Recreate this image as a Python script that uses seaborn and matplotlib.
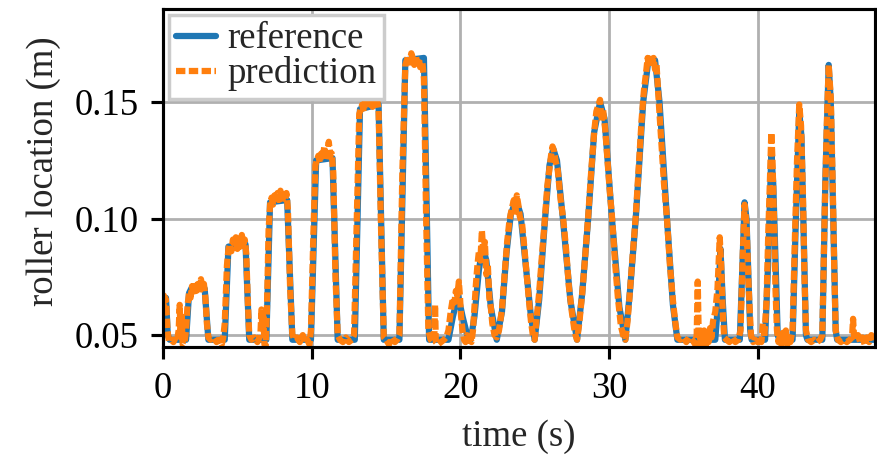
import matplotlib
matplotlib.use("Agg")
import matplotlib.pyplot as plt
from matplotlib.ticker import FixedLocator, FormatStrFormatter
import seaborn as sns
import pandas as pd

# Measured roller position (reference) and model output (prediction), metres vs seconds
ref_time = [
    0.00, 0.08, 0.20, 0.32, 0.45, 1.55, 1.75, 1.90, 2.80, 3.05,
    4.15, 4.40, 5.55, 5.80, 6.95, 7.20, 8.35, 8.70, 9.95, 10.30,
    11.40, 11.75, 12.90, 13.25, 14.50, 14.85, 15.90, 16.30, 17.55, 17.90,
    19.20, 19.50, 19.85, 20.15, 20.50, 20.70, 20.95, 21.25, 21.50, 21.75,
    22.05, 22.45, 22.80, 23.10, 23.40, 23.75, 24.05, 24.40, 24.75, 25.00,
    25.30, 25.70, 26.00, 26.25, 26.50, 26.90, 27.40, 27.85, 28.20, 28.60,
    29.00, 29.40, 29.70, 30.20, 30.70, 31.10, 31.40, 31.80, 32.30, 32.65,
    33.10, 33.40, 33.90, 34.30, 34.60, 37.15, 37.35, 37.50, 37.65, 37.80,
    38.80, 38.95, 39.12, 39.25, 39.50, 39.60, 40.50, 40.70, 40.92, 41.05,
    41.35, 41.45, 42.35, 42.55, 42.80, 42.95, 43.25, 43.35, 44.35, 44.55,
    44.78, 44.92, 45.25, 45.35, 47.90,
]
ref_location = [
    0.056, 0.066, 0.066, 0.050, 0.048, 0.048, 0.068, 0.070, 0.070, 0.048,
    0.048, 0.088, 0.089, 0.048, 0.048, 0.107, 0.108, 0.048, 0.048, 0.125,
    0.126, 0.048, 0.048, 0.147, 0.149, 0.048, 0.048, 0.168, 0.169, 0.048,
    0.048, 0.058, 0.067, 0.058, 0.049, 0.048, 0.058, 0.078, 0.088, 0.082,
    0.062, 0.048, 0.060, 0.085, 0.102, 0.108, 0.102, 0.080, 0.058, 0.048,
    0.065, 0.100, 0.123, 0.130, 0.125, 0.100, 0.065, 0.048, 0.068, 0.100,
    0.137, 0.150, 0.143, 0.100, 0.062, 0.048, 0.068, 0.100, 0.150, 0.168,
    0.168, 0.150, 0.100, 0.063, 0.048, 0.048, 0.065, 0.087, 0.065, 0.048,
    0.048, 0.075, 0.107, 0.100, 0.052, 0.048, 0.048, 0.080, 0.128, 0.115,
    0.050, 0.048, 0.048, 0.095, 0.146, 0.135, 0.050, 0.048, 0.048, 0.115,
    0.166, 0.150, 0.052, 0.048, 0.048,
]

pred_time = [
    0.00, 0.05, 0.10, 0.15, 0.22, 0.30, 0.40, 0.55, 0.70, 0.85,
    0.95, 1.05, 1.12, 1.18, 1.25, 1.32, 1.45, 1.55, 1.65, 1.75,
    1.85, 1.95, 2.05, 2.15, 2.25, 2.35, 2.45, 2.55, 2.65, 2.75,
    2.85, 2.95, 3.05, 3.20, 3.40, 3.60, 3.80, 3.95, 4.05, 4.15,
    4.30, 4.40, 4.50, 4.60, 4.70, 4.80, 4.90, 5.00, 5.10, 5.20,
    5.30, 5.40, 5.50, 5.60, 5.70, 5.80, 5.95, 6.15, 6.35, 6.55,
    6.62, 6.68, 6.75, 6.82, 6.90, 6.98, 7.10, 7.20, 7.30, 7.40,
    7.50, 7.60, 7.70, 7.80, 7.90, 8.00, 8.10, 8.20, 8.30, 8.40,
    8.55, 8.70, 8.85, 9.00, 9.20, 9.40, 9.55, 9.70, 9.85, 9.95,
    10.10, 10.25, 10.35, 10.45, 10.55, 10.65, 10.75, 10.85, 10.95, 11.05,
    11.15, 11.25, 11.35, 11.45, 11.60, 11.75, 11.90, 12.10, 12.30, 12.50,
    12.70, 12.85, 13.00, 13.20, 13.30, 13.40, 13.50, 13.60, 13.70, 13.80,
    13.90, 14.00, 14.10, 14.20, 14.30, 14.40, 14.50, 14.65, 14.85, 15.00,
    15.20, 15.40, 15.60, 15.75, 15.90, 16.10, 16.30, 16.40, 16.50, 16.60,
    16.70, 16.80, 16.90, 17.00, 17.10, 17.20, 17.30, 17.45, 17.55, 17.70,
    17.85, 18.00, 18.15, 18.25, 18.30, 18.35, 18.50, 18.70, 18.90, 19.05,
    19.20, 19.35, 19.50, 19.60, 19.70, 19.80, 19.90, 19.98, 20.05, 20.15,
    20.25, 20.35, 20.45, 20.55, 20.65, 20.75, 20.85, 20.95, 21.05, 21.15,
    21.25, 21.35, 21.45, 21.55, 21.65, 21.75, 21.85, 21.95, 22.05, 22.15,
    22.30, 22.45, 22.60, 22.80, 23.00, 23.15, 23.30, 23.45, 23.60, 23.70,
    23.80, 23.90, 24.00, 24.15, 24.30, 24.45, 24.60, 24.75, 24.90, 25.00,
    25.10, 25.30, 25.50, 25.70, 25.85, 26.00, 26.10, 26.20, 26.30, 26.40,
    26.55, 26.75, 26.90, 27.10, 27.30, 27.50, 27.70, 27.85, 28.00, 28.20,
    28.40, 28.60, 28.80, 29.00, 29.15, 29.30, 29.40, 29.50, 29.60, 29.75,
    29.90, 30.05, 30.20, 30.40, 30.60, 30.80, 30.95, 31.10, 31.25, 31.40,
    31.60, 31.80, 32.00, 32.20, 32.35, 32.50, 32.60, 32.70, 32.80, 32.90,
    33.00, 33.10, 33.20, 33.35, 33.50, 33.70, 33.90, 34.10, 34.30, 34.45,
    34.60, 34.80, 35.00, 35.20, 35.40, 35.60, 35.80, 35.90, 35.97, 36.03,
    36.10, 36.20, 36.30, 36.40, 36.50, 36.60, 36.70, 36.80, 36.90, 37.00,
    37.15, 37.30, 37.45, 37.55, 37.65, 37.75, 37.90, 38.10, 38.30, 38.50,
    38.70, 38.85, 39.00, 39.12, 39.25, 39.40, 39.55, 39.70, 39.85, 40.00,
    40.15, 40.25, 40.35, 40.45, 40.60, 40.72, 40.82, 40.92, 41.00, 41.10,
    41.20, 41.30, 41.40, 41.50, 41.60, 41.70, 41.80, 41.90, 42.00, 42.10,
    42.20, 42.35, 42.50, 42.65, 42.80, 42.92, 43.05, 43.15, 43.25, 43.40,
    43.60, 43.80, 44.00, 44.20, 44.35, 44.50, 44.65, 44.78, 44.92, 45.05,
    45.15, 45.25, 45.40, 45.60, 45.80, 46.00, 46.20, 46.35, 46.42, 46.48,
    46.60, 46.75, 46.90, 47.05, 47.20, 47.35, 47.50, 47.65, 47.80, 47.90,
]
pred_location = [
    0.060, 0.067, 0.058, 0.066, 0.063, 0.052, 0.047, 0.048, 0.047, 0.049,
    0.048, 0.052, 0.063, 0.050, 0.058, 0.046, 0.047, 0.052, 0.063, 0.068,
    0.066, 0.071, 0.067, 0.073, 0.069, 0.072, 0.068, 0.074, 0.070, 0.072,
    0.066, 0.055, 0.049, 0.048, 0.049, 0.047, 0.048, 0.046, 0.049, 0.055,
    0.080, 0.087, 0.089, 0.086, 0.091, 0.088, 0.092, 0.087, 0.090, 0.088,
    0.093, 0.089, 0.091, 0.085, 0.065, 0.050, 0.048, 0.049, 0.047, 0.050,
    0.061, 0.053, 0.058, 0.046, 0.045, 0.058, 0.095, 0.106, 0.109, 0.106,
    0.110, 0.107, 0.111, 0.108, 0.112, 0.107, 0.110, 0.108, 0.111, 0.104,
    0.070, 0.050, 0.048, 0.049, 0.047, 0.050, 0.047, 0.048, 0.046, 0.052,
    0.090, 0.123, 0.125, 0.127, 0.124, 0.128, 0.126, 0.131, 0.125, 0.129,
    0.133, 0.127, 0.128, 0.120, 0.075, 0.050, 0.048, 0.047, 0.049, 0.047,
    0.048, 0.050, 0.090, 0.145, 0.147, 0.149, 0.146, 0.150, 0.148, 0.152,
    0.149, 0.151, 0.148, 0.153, 0.149, 0.151, 0.147, 0.100, 0.049, 0.048,
    0.046, 0.049, 0.047, 0.048, 0.050, 0.120, 0.166, 0.168, 0.170, 0.167,
    0.171, 0.169, 0.166, 0.170, 0.167, 0.169, 0.165, 0.167, 0.160, 0.100,
    0.052, 0.048, 0.047, 0.049, 0.063, 0.047, 0.046, 0.047, 0.048, 0.049,
    0.052, 0.060, 0.066, 0.064, 0.069, 0.067, 0.073, 0.066, 0.058, 0.052,
    0.048, 0.047, 0.050, 0.046, 0.049, 0.047, 0.052, 0.062, 0.072, 0.080,
    0.086, 0.082, 0.095, 0.085, 0.090, 0.076, 0.080, 0.066, 0.062, 0.055,
    0.050, 0.049, 0.052, 0.061, 0.078, 0.090, 0.099, 0.104, 0.108, 0.103,
    0.110, 0.106, 0.101, 0.098, 0.088, 0.077, 0.066, 0.056, 0.049, 0.048,
    0.055, 0.068, 0.085, 0.101, 0.114, 0.122, 0.127, 0.131, 0.129, 0.125,
    0.121, 0.108, 0.101, 0.088, 0.071, 0.060, 0.051, 0.048, 0.055, 0.068,
    0.084, 0.101, 0.120, 0.137, 0.146, 0.149, 0.151, 0.142, 0.147, 0.138,
    0.125, 0.112, 0.101, 0.082, 0.066, 0.054, 0.050, 0.048, 0.056, 0.068,
    0.085, 0.101, 0.122, 0.143, 0.155, 0.163, 0.169, 0.165, 0.170, 0.167,
    0.169, 0.164, 0.166, 0.150, 0.135, 0.115, 0.100, 0.080, 0.065, 0.056,
    0.049, 0.048, 0.049, 0.047, 0.049, 0.048, 0.046, 0.050, 0.073, 0.052,
    0.045, 0.053, 0.046, 0.052, 0.045, 0.051, 0.047, 0.053, 0.049, 0.056,
    0.060, 0.070, 0.092, 0.080, 0.060, 0.049, 0.048, 0.047, 0.049, 0.047,
    0.048, 0.052, 0.085, 0.106, 0.098, 0.070, 0.050, 0.047, 0.048, 0.047,
    0.049, 0.047, 0.055, 0.049, 0.065, 0.095, 0.115, 0.137, 0.125, 0.100,
    0.070, 0.052, 0.047, 0.050, 0.046, 0.051, 0.047, 0.052, 0.046, 0.049,
    0.047, 0.052, 0.090, 0.125, 0.149, 0.140, 0.110, 0.075, 0.052, 0.048,
    0.047, 0.048, 0.047, 0.048, 0.050, 0.100, 0.140, 0.166, 0.152, 0.115,
    0.080, 0.052, 0.048, 0.047, 0.048, 0.047, 0.048, 0.049, 0.057, 0.050,
    0.048, 0.050, 0.047, 0.049, 0.046, 0.049, 0.047, 0.050, 0.047, 0.048,
]

x_ticks = [0, 10, 20, 30, 40]
y_ticks = [0.05, 0.10, 0.15]

sns.set_style("ticks", {"axes.grid": True, "grid.color": "#b0b0b0",
                        "axes.edgecolor": "black"})
plt.rcParams["font.family"] = ["Liberation Serif", "DejaVu Serif"]
plt.rcParams["font.size"] = 10.6
plt.rcParams["axes.linewidth"] = 0.9
plt.rcParams["grid.linewidth"] = 0.8
plt.rcParams["xtick.major.size"] = 3.5
plt.rcParams["ytick.major.size"] = 3.5
plt.rcParams["xtick.major.width"] = 0.9
plt.rcParams["ytick.major.width"] = 0.9

ref_df = pd.DataFrame({"time": ref_time, "location": ref_location})
pred_df = pd.DataFrame({"time": pred_time, "location": pred_location})

fig = plt.figure(figsize=(877 / 250, 455 / 250), dpi=250)
ax = fig.add_axes([0.1859, 0.2374, 0.8119, 0.7428])

sns.lineplot(data=ref_df, x="time", y="location", ax=ax, color="#1f77b4",
             linewidth=1.8, estimator=None, sort=False, label="reference")
sns.lineplot(data=pred_df, x="time", y="location", ax=ax, color="#ff7f0e",
             linewidth=1.8, estimator=None, sort=False,
             linestyle=(0, (1.5, 0.55)), label="prediction")

ax.set_xlim(0, 47.9)
ax.set_ylim(0.0449, 0.190)
ax.xaxis.set_major_locator(FixedLocator(x_ticks))
ax.yaxis.set_major_locator(FixedLocator(y_ticks))
ax.yaxis.set_major_formatter(FormatStrFormatter("%.2f"))
ax.tick_params(direction="out", colors="black", labelsize=10.6)
ax.grid(True, color="#b0b0b0", linewidth=0.8)
ax.set_axisbelow(True)

ax.set_xlabel("time (s)", fontsize=10.6)
ax.set_ylabel("roller location (m)", fontsize=10.6)
ax.yaxis.label.set_y(0.52)

for side in ax.spines.values():
    side.set_visible(True)
    side.set_color("black")
    side.set_linewidth(0.9)

ax.legend(loc="upper left", fancybox=False, framealpha=1.0, edgecolor="0.8",
          handlelength=1.1, handletextpad=0.3, labelspacing=0.0,
          borderaxespad=0.15, borderpad=0.2, fontsize=10.6)

fig.savefig("out.png", dpi=250)
